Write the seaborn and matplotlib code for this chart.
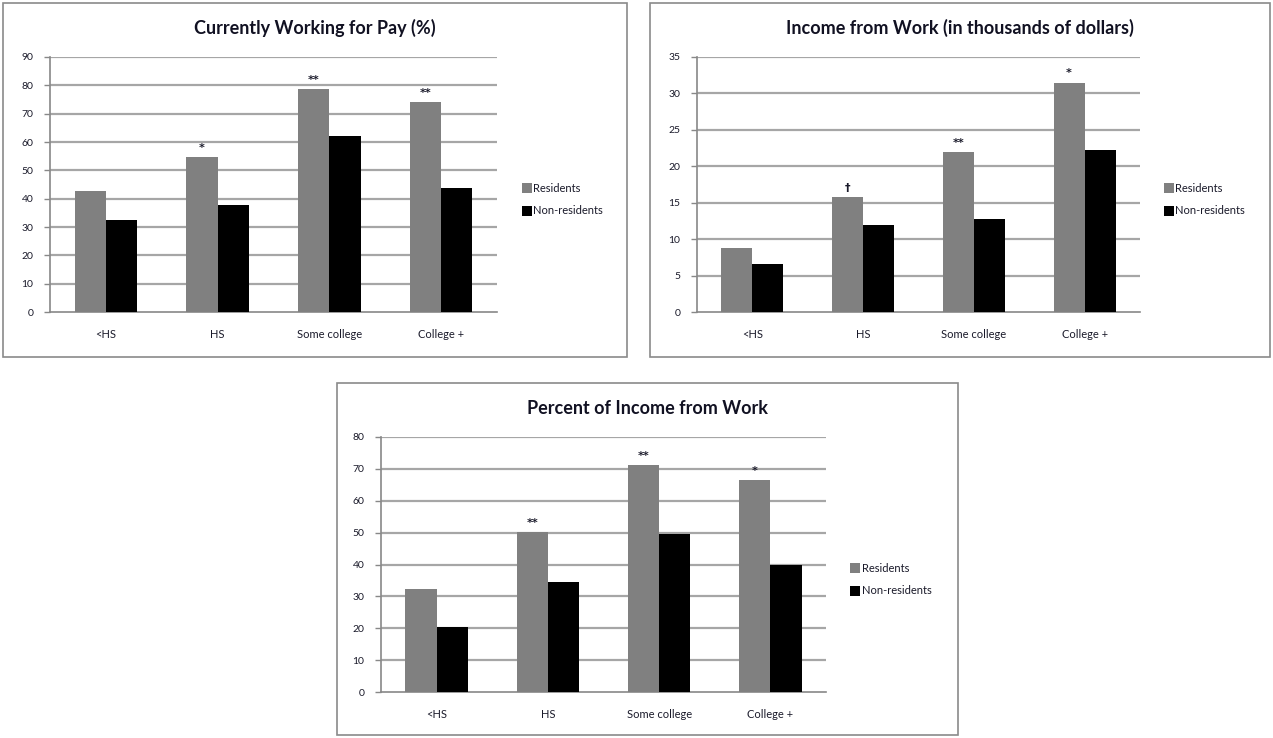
import matplotlib
matplotlib.use("Agg")
import matplotlib.pyplot as plt
from matplotlib.patches import Rectangle, Patch
import seaborn as sns
import pandas as pd

categories = ["<HS", "HS", "Some college", "College +"]
series_names = ["Residents", "Non-residents"]

work_res = [42.7, 54.6, 78.8, 74.1]
work_non = [32.4, 37.6, 62.1, 43.7]
work_marks = ["", "*", "**", "**"]

income_res = [8.8, 15.8, 22.0, 31.5]
income_non = [6.6, 12.0, 12.7, 22.2]
income_marks = ["", "\u2020", "**", "*"]

pct_res = [32.3, 50.3, 71.1, 66.5]
pct_non = [20.5, 34.6, 49.6, 40.0]
pct_marks = ["", "**", "**", "*"]

titles = ["Currently Working for Pay (%)",
          "Income from Work (in thousands of dollars)",
          "Percent of Income from Work"]
yticks_list = [list(range(0, 91, 10)), list(range(0, 36, 5)), list(range(0, 81, 10))]

sns.set_style("white")
plt.rcParams["font.family"] = ["Lato", "DejaVu Sans"]

W, H = 1273, 738
fig = plt.figure(figsize=(W / 100, H / 100), dpi=100)

def fx(x):
    return x / W

def fy(y):
    return 1 - y / H

panels = [
    # axes px box (left, top, right, bottom), frame px (x0, y0, x1, y1)
    ((50, 57, 497, 312), (3, 3, 627, 357), work_res, work_non, work_marks),
    ((697, 57, 1140, 312), (650, 3, 1270, 357), income_res, income_non, income_marks),
    ((381, 437, 826, 692), (337, 383, 958, 735), pct_res, pct_non, pct_marks),
]

colors = {"Residents": "#808080", "Non-residents": "#000000"}
grid_c = "#a6a6a6"
txt_c = "#1a1a2a"

for i, (abox, fbox, res, non, marks) in enumerate(panels):
    l, t, r, b = abox
    ax = fig.add_axes([fx(l), fy(b), fx(r) - fx(l), fy(t) - fy(b)])
    df = pd.DataFrame({
        "cat": categories * 2,
        "series": [series_names[0]] * 4 + [series_names[1]] * 4,
        "val": list(res) + list(non),
    })
    sns.barplot(data=df, x="cat", y="val", hue="series", order=categories,
                hue_order=series_names, palette=colors, width=0.56,
                ax=ax, legend=False, saturation=1, linewidth=0, zorder=3)
    yt = yticks_list[i]
    ax.set_ylim(0, yt[-1])
    ax.set_xlim(-0.5, 3.5)
    ax.set_yticks(yt)
    ax.set_yticklabels([str(v) for v in yt], fontsize=7.5, color=txt_c)
    for v in yt[1:]:
        ax.axhline(v, color=grid_c, lw=1.6, zorder=1)
    ax.set_xticks([0, 1, 2, 3])
    ax.set_xticklabels(categories, fontsize=8, color=txt_c)
    ax.set_xticks([-0.5, 0.5, 1.5, 2.5, 3.5], minor=True)
    ax.tick_params(axis="x", which="major", length=0, pad=12)
    ax.tick_params(axis="x", which="minor", length=4, color="#888888", width=1)
    ax.tick_params(axis="y", length=4, color="#888888", width=1, pad=8, direction="out", left=True)
    ax.set_xlabel("")
    ax.set_ylabel("")
    for s in ["top", "right"]:
        ax.spines[s].set_visible(False)
    for s in ["left", "bottom"]:
        ax.spines[s].set_color("#888888")
        ax.spines[s].set_linewidth(1.2)
    # significance marks above resident bars
    for j, m in enumerate(marks):
        if m:
            ax.annotate(m, (j - 0.14, res[j]), xytext=(0, 3), textcoords="offset points",
                        ha="center", va="bottom", fontsize=8, fontweight="bold",
                        family=["DejaVu Sans"], color=txt_c)
    handles = [Patch(facecolor=colors[n], edgecolor="none") for n in series_names]
    ax.legend(handles, series_names, loc="center left", bbox_to_anchor=(1.045, 0.44),
              frameon=False, fontsize=8, handlelength=0.9, handleheight=1.0,
              handletextpad=0.1, labelspacing=1.0, borderaxespad=0,
              labelcolor=txt_c)
    x0, y0, x1, y1 = fbox
    fig.add_artist(Rectangle((fx(x0), fy(y1)), fx(x1) - fx(x0), fy(y0) - fy(y1),
                             transform=fig.transFigure, fill=False,
                             edgecolor="#8a8a8a", lw=1.2))
    fig.text(fx((x0 + x1) / 2), fy(y0 + 25), titles[i], ha="center", va="center",
             fontsize=13, fontweight="bold", color="#111122")

fig.savefig("out.png", dpi=100)
